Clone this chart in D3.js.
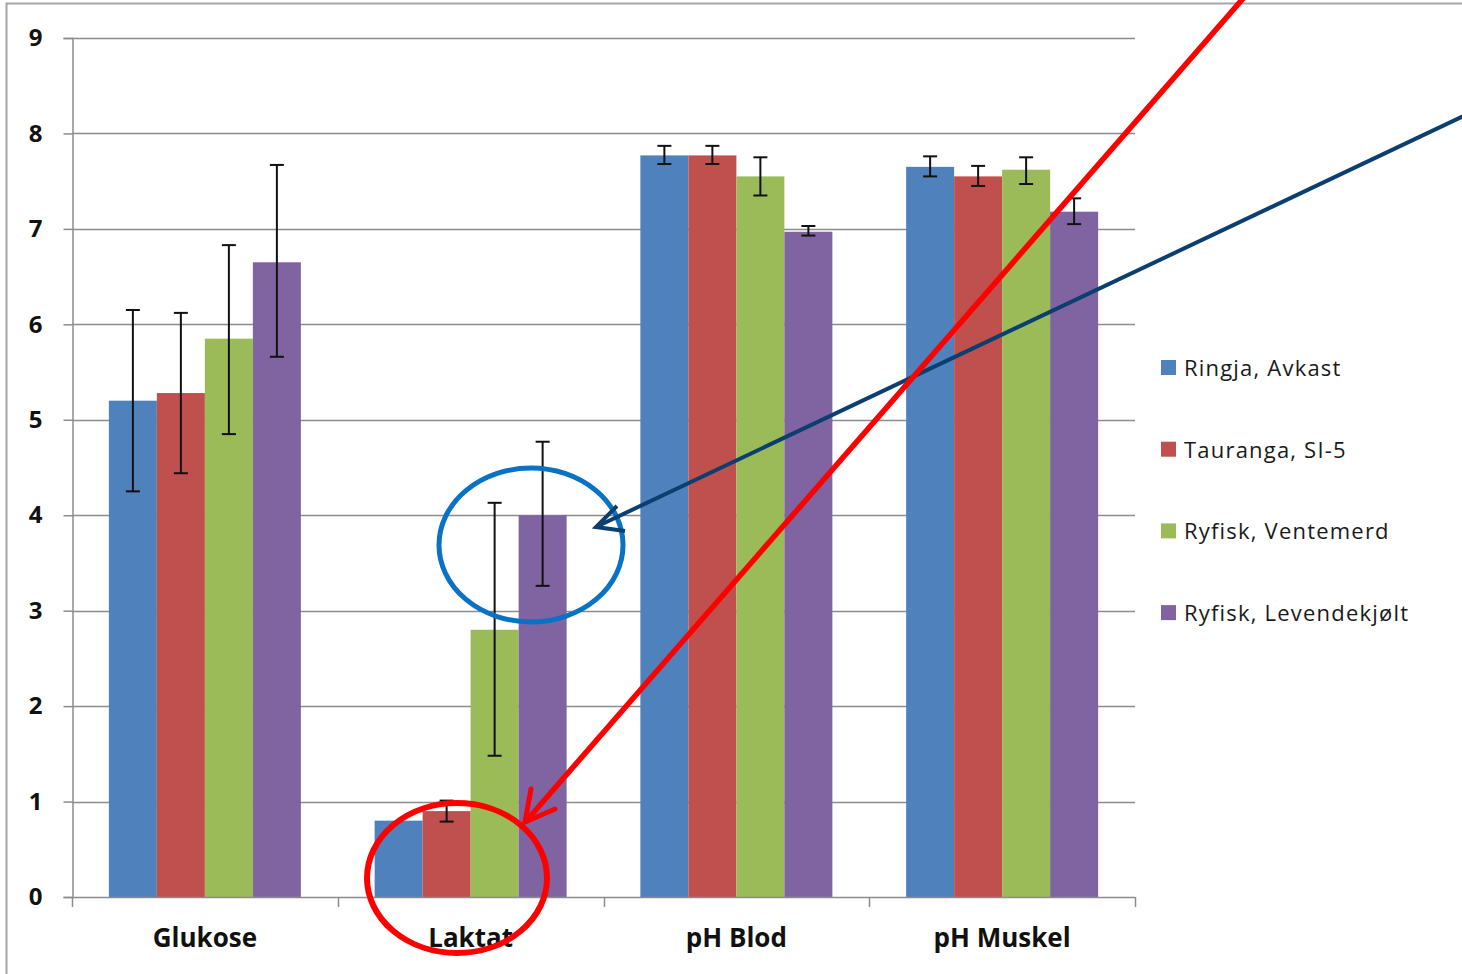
<!DOCTYPE html>
<html><head><meta charset="utf-8">
<script src="https://cdn.jsdelivr.net/npm/d3@7"></script>
<style>body{margin:0;background:#fff}svg{display:block}</style>
</head><body>
<svg id="c" width="1462" height="974"></svg>
<script>
const categories = ["Glukose", "Laktat", "pH Blod", "pH Muskel"];
const seriesNames = ["Ringja, Avkast", "Tauranga, SI-5", "Ryfisk, Ventemerd", "Ryfisk, Levendekjølt"];
const colors = ["#4F81BD", "#C0504D", "#9BBB59", "#8064A2"];
const ringja = [5.2, 0.8, 7.77, 7.65];
const tauranga = [5.28, 0.9, 7.77, 7.55];
const ventemerd = [5.85, 2.8, 7.55, 7.62];
const levende = [6.65, 4.0, 6.97, 7.18];
const ringjaErr = [[4.25, 6.15], null, [7.68, 7.87], [7.55, 7.76]];
const taurangaErr = [[4.44, 6.12], [0.79, 1.01], [7.68, 7.87], [7.45, 7.66]];
const ventemerdErr = [[4.85, 6.83], [1.48, 4.13], [7.35, 7.75], [7.47, 7.75]];
const levendeErr = [[5.66, 7.67], [3.26, 4.77], [6.93, 7.03], [7.05, 7.32]];
const yTicks = [0,1,2,3,4,5,6,7,8,9];

const values = [ringja, tauranga, ventemerd, levende];
const errs = [ringjaErr, taurangaErr, ventemerdErr, levendeErr];

const svg = d3.select("#c");
const font = "'Open Sans', Lato, sans-serif";
// outer border
svg.append("path").attr("d","M6.5,980 V3.5 H1470").attr("fill","none").attr("stroke","#a6a6a6").attr("stroke-width",2);

const x0 = d3.scaleBand().domain(categories).range([72,1135]).paddingInner(0.2775).paddingOuter(0.13875);
const x1 = d3.scaleBand().domain(d3.range(4)).range([0, x0.bandwidth()]);
const y = d3.scaleLinear().domain([0,9]).range([897,38]);

// gridlines
svg.append("g").selectAll("line").data(yTicks.filter(d=>d>0)).join("line")
  .attr("x1",72).attr("x2",1135).attr("y1",d=>Math.round(y(d))+0.5).attr("y2",d=>Math.round(y(d))+0.5)
  .attr("stroke","#8c8c8c").attr("stroke-width",1.5);

// y axis
const ya = svg.append("g").attr("transform","translate(72.5,0)")
  .call(d3.axisLeft(y).tickValues(yTicks).tickSize(9).tickPadding(21).tickFormat(d3.format("d")));
ya.select(".domain").attr("stroke","#8c8c8c").attr("stroke-width",1.5);
ya.selectAll(".tick line").attr("stroke","#8c8c8c").attr("stroke-width",1.5);
ya.selectAll(".tick text").attr("font-family",font).attr("font-weight","bold").attr("font-size",24).attr("fill","#111");

// bars
const g = svg.append("g");
categories.forEach((c,ci)=>{
  values.forEach((s,si)=>{
    g.append("rect").attr("x",x0(c)+x1(si)).attr("width",x1.bandwidth())
      .attr("y",y(s[ci])).attr("height",y(0)-y(s[ci])).attr("fill",colors[si]);
  });
});
// error bars
const eg = svg.append("g").attr("stroke","#111").attr("stroke-width",2);
categories.forEach((c,ci)=>{
  errs.forEach((s,si)=>{
    const e = s[ci]; if(!e) return;
    const cx = x0(c)+x1(si)+x1.bandwidth()/2;
    eg.append("line").attr("x1",cx).attr("x2",cx).attr("y1",y(e[0])).attr("y2",y(e[1]));
    eg.append("line").attr("x1",cx-7).attr("x2",cx+7).attr("y1",y(e[0])).attr("y2",y(e[0]));
    eg.append("line").attr("x1",cx-7).attr("x2",cx+7).attr("y1",y(e[1])).attr("y2",y(e[1]));
  });
});

// x axis
svg.append("line").attr("x1",72).attr("x2",1135).attr("y1",897.5).attr("y2",897.5).attr("stroke","#8c8c8c").attr("stroke-width",1.5);
const bounds = categories.map(c=>x0(c)-x0.step()*x0.paddingInner()/2).concat([1135]);
svg.append("g").selectAll("line").data(bounds).join("line")
  .attr("x1",d=>Math.round(d)+0.5).attr("x2",d=>Math.round(d)+0.5).attr("y1",897).attr("y2",907)
  .attr("stroke","#8c8c8c").attr("stroke-width",1.5);
svg.append("g").selectAll("text").data(categories).join("text")
  .attr("x",d=>x0(d)+x0.bandwidth()/2).attr("y",947).attr("text-anchor","middle")
  .attr("font-family",font).attr("font-weight","bold").attr("font-size",26).attr("fill","#111").text(d=>d);

// legend
const lg = svg.append("g");
seriesNames.forEach((n,i)=>{
  const ly = 368 + i*81.7;
  lg.append("rect").attr("x",1161).attr("y",ly-8).attr("width",15).attr("height",15).attr("fill",colors[i]);
  lg.append("text").attr("x",1184).attr("y",ly+8).attr("font-family",font).attr("font-size",22)
    .attr("fill","#1a1a1a").attr("letter-spacing",1.2).text(n);
});

// annotations
const an = svg.append("g").attr("fill","none");
an.append("ellipse").attr("cx",531).attr("cy",545).attr("rx",92).attr("ry",77).attr("stroke","#0a72c4").attr("stroke-width",5);
an.append("line").attr("x1",1470).attr("y1",113).attr("x2",598).attr("y2",526).attr("stroke","#0b3f70").attr("stroke-width",4);
an.append("path").attr("d","M617,506 L596,527 L625,531").attr("stroke","#0b3f70").attr("stroke-width",4).attr("stroke-linejoin","miter");
an.append("ellipse").attr("cx",457).attr("cy",878).attr("rx",90).attr("ry",75).attr("stroke","#ff0000").attr("stroke-width",6);
an.append("line").attr("x1",1247).attr("y1",-6).attr("x2",527).attr("y2",820).attr("stroke","#ff0000").attr("stroke-width",5.5);
an.append("path").attr("d","M531,789 L525,822 L555,809").attr("stroke","#ff0000").attr("stroke-width",5).attr("stroke-linecap","round");
</script>
</body></html>
